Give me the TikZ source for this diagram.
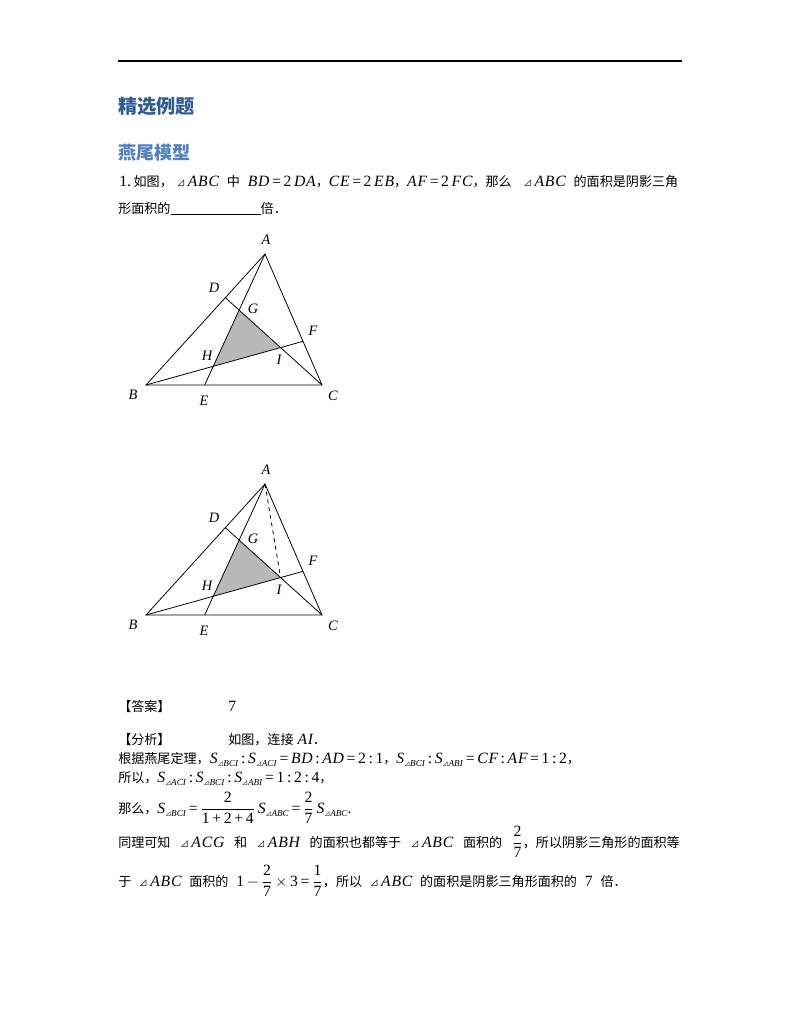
\documentclass[tikz,border=0pt]{standalone}
\usepackage{amsmath}
\usepackage{fontspec}
\setmainfont{Liberation Serif}
\newfontfamily\cjk{Noto Sans CJK SC}
\newfontfamily\mfam[LetterSpace=5]{Liberation Serif}
\usetikzlibrary{calc}
\definecolor{hdA}{HTML}{2E5A96}
\definecolor{hdB}{HTML}{4F81BD}
\newcommand\zh{\cjk\fontsize{10}{12}\selectfont}
\newcommand\tri{{\cjk\fontsize{6.5}{6.5}\selectfont ⊿}}
\newcommand\stri{{\cjk\fontsize{4.5}{4.5}\selectfont ⊿}}
\newcommand\Sx[1]{\mi{S}\raisebox{-0.45ex}{\fontsize{7}{7}\selectfont\stri\textit{#1}}}
\newcommand\mi[1]{{\mfam\itshape #1}}
\newcommand\gap{\hspace{0.62em}}
\newcommand\trifig[3]{%
\begin{scope}[shift={(0,#2)}]
 \coordinate (#1A) at (265,254);
 \coordinate (#1B) at (146,385);
 \coordinate (#1C) at (322,385);
 \coordinate (#1D) at ($(#1B)!2/3!(#1A)$);
 \coordinate (#1E) at ($(#1B)!1/3!(#1C)$);
 \coordinate (#1F) at ($(#1A)!2/3!(#1C)$);
 \coordinate (#1G) at (intersection of #1A--#1E and #1C--#1D);
 \coordinate (#1H) at (intersection of #1A--#1E and #1B--#1F);
 \coordinate (#1I) at (intersection of #1B--#1F and #1C--#1D);
 \fill[shade] (#1G) -- (#1H) -- (#1I) -- cycle;
 \draw[edge] (#1A) -- (#1B) -- (#1C) -- cycle;
 \draw[edge] (#1C) -- (#1D);
 \draw[edge] (#1A) -- (#1E);
 \draw[edge] (#1B) -- (#1F);
 #3
 \node[lab] (#1lA) at (266,240) {A};
 \node[lab] (#1lD) at (214,288) {D};
 \node[lab] (#1lG) at (253,309) {G};
 \node[lab] (#1lF) at (313,331) {F};
 \node[lab] (#1lH) at (207,356) {H};
 \node[lab] (#1lI) at (279,360) {I};
 \node[lab] (#1lB) at (133,395) {B};
 \node[lab] (#1lE) at (204,401) {E};
 \node[lab] (#1lC) at (333,396) {C};
\end{scope}}
\begin{document}
\begin{tikzpicture}[x=0.765pt,y=-0.765pt,
  edge/.style={line width=0.6pt,black},
  shade/.style={fill=gray!55},
  lab/.style={font=\fontsize{11}{11}\selectfont\itshape,inner sep=0pt},
  txt/.style={anchor=base west,inner sep=0pt,font=\fontsize{12}{14}\selectfont},
  txs/.style={anchor=base west,inner sep=0pt,font=\fontsize{12}{14}\selectfont}]
\useasboundingbox[fill=white] (0,0) rectangle (800,1035);
\draw[line width=1.5pt] (118,61) -- (682,61);
\node[anchor=base west,inner sep=0pt,text=hdA] (h1) at (118,113.5) {\cjk\bfseries\fontsize{14.7}{16}\selectfont 精选例题};
\node[anchor=base west,inner sep=0pt,text=hdB] (h2) at (118,159.5) {\cjk\bfseries\fontsize{13.8}{15}\selectfont 燕尾模型};
\node[txt] (q1) at (119,186) {1.\,{\zh 如图，}\ \tri\,\mi{ABC}\ \ {\zh 中}\ \ \mi{BD}\,=\,2\,\mi{DA}{\zh ，}\mi{CE}\,=\,2\,\mi{EB}{\zh ，}\mi{AF}\,=\,2\,\mi{FC}{\zh ，那么}\ \ \ \tri\,\mi{ABC}\ \ {\zh 的面积是阴影三角}};
\node[txt] (q2) at (118,213) {{\zh 形面积的}\rule[-1.5pt]{69pt}{0.5pt}{\zh 倍．}};
\trifig{a}{0}{}
\trifig{b}{230}{\draw[edge,dashed] (bA) -- (bI);}
\node[txs] (ans) at (118,711) {{\zh 【答案】}};
\node[txs] (ansv) at (228,711) {7};
\node[txs] (ana) at (118,744) {{\zh 【分析】}};
\node[txs] (ana1) at (228,744) {{\zh 如图，连接}\ \mi{AI}{\zh ．}};
\node[txs] (l1) at (118,763) {{\zh 根据燕尾定理，}\Sx{BCI}\,:\,\Sx{ACI}\,=\,\mi{BD}\,:\,\mi{AD}\,=\,2\,:\,1{\zh ，}\Sx{BCI}\,:\,\Sx{ABI}\,=\,\mi{CF}\,:\,\mi{AF}\,=\,1\,:\,2{\zh ，}};
\node[txs] (l2) at (118,782) {{\zh 所以，}\Sx{ACI}\,:\,\Sx{BCI}\,:\,\Sx{ABI}\,=\,1\,:\,2\,:\,4{\zh ，}};
\node[txs] (l3) at (118,813) {{\zh 那么，}\Sx{BCI}\,=\,$\dfrac{\hbox{2}}{\hbox{1\,+\,2\,+\,4}}$\,\Sx{ABC}\,=\,$\dfrac{\hbox{2}}{\hbox{7}}$\,\Sx{ABC}.};
\node[txs] (l4) at (118,847) {{\zh 同理可知}\gap\tri\,\mi{ACG}\gap{\zh 和}\gap\tri\,\mi{ABH}\gap{\zh 的面积也都等于}\gap\tri\,\mi{ABC}\gap{\zh 面积的}\gap$\dfrac{\hbox{2}}{\hbox{7}}${\zh ，所以阴影三角形的面积等}};
\node[txs] (l5) at (118,886) {{\zh 于}\ \ \tri\,\mi{ABC}\ \ {\zh 面积的}\ \ 1\,$-$\,$\dfrac{\hbox{2}}{\hbox{7}}$\,$\times$\,3\,=\,$\dfrac{\hbox{1}}{\hbox{7}}${\zh ，所以}\ \ \tri\,\mi{ABC}\ \ {\zh 的面积是阴影三角形面积的}\ \ 7\ \ {\zh 倍．}};
\end{tikzpicture}
\end{document}
